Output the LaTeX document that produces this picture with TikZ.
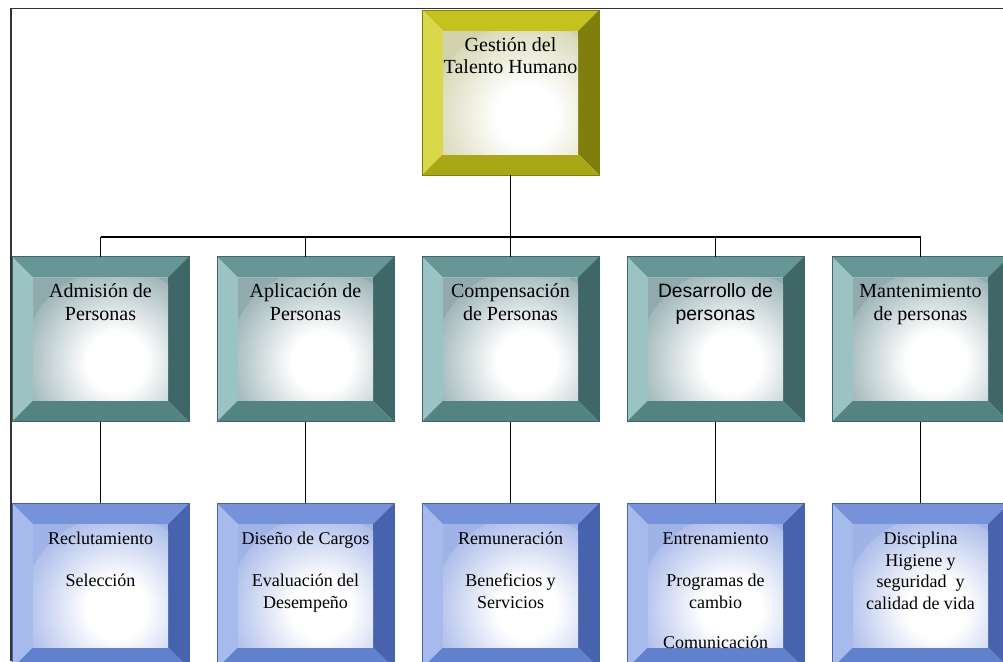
\documentclass[tikz,border=0pt]{standalone}
\usepackage{fontspec}
\setmainfont{Liberation Serif}
\newfontfamily\arialfont{Liberation Sans}
\usetikzlibrary{calc}

\definecolor{goldT}{HTML}{C3C21E}
\definecolor{goldL}{HTML}{D9D84B}
\definecolor{goldR}{HTML}{807E0C}
\definecolor{goldB}{HTML}{A9A715}
\definecolor{goldI}{HTML}{D2D2AC}
\definecolor{tealT}{HTML}{669696}
\definecolor{tealL}{HTML}{9CC3C3}
\definecolor{tealR}{HTML}{3F6767}
\definecolor{tealB}{HTML}{538383}
\definecolor{tealI}{HTML}{90AAAE}
\definecolor{blueT}{HTML}{7692DA}
\definecolor{blueL}{HTML}{A7BAEC}
\definecolor{blueR}{HTML}{4863AE}
\definecolor{blueB}{HTML}{6281CD}
\definecolor{blueI}{HTML}{A0B3E7}

\pgfdeclareradialshading{glowgold}{\pgfpoint{0bp}{0bp}}{color(0bp)=(white); color(8bp)=(white); color(28bp)=(goldI); color(50bp)=(goldI)}
\pgfdeclareradialshading{glowteal}{\pgfpoint{0bp}{0bp}}{color(0bp)=(white); color(8bp)=(white); color(28bp)=(tealI); color(50bp)=(tealI)}
\pgfdeclareradialshading{glowblue}{\pgfpoint{0bp}{0bp}}{color(0bp)=(white); color(8bp)=(white); color(28bp)=(blueI); color(50bp)=(blueI)}

\newlength{\bxw}\setlength{\bxw}{132.75pt}
\newlength{\bxh}\setlength{\bxh}{123.75pt}
\newcommand{\bigfont}{\fontsize{15}{17}\selectfont}
\newcommand{\smallfont}{\fontsize{13.5}{16.3}\selectfont}
\newcommand{\boxlines}[2][\bigfont]{\parbox[c][\bxh][t]{\bxw}{\centering#1\rule{0pt}{30.75pt}#2\par}}

\tikzset{
  bevelbox/.style 2 args={rectangle, inner sep=0pt, outer sep=0pt,
    draw=#1R, line width=0.4pt,
    path picture={
      \coordinate (bsw) at (path picture bounding box.south west);
      \coordinate (bne) at (path picture bounding box.north east);
      \coordinate (bnw) at (bsw |- bne);
      \coordinate (bse) at (bne |- bsw);
      \coordinate (isw) at ($(bsw)+(15.75pt,15.75pt)$);
      \coordinate (ine) at ($(bne)+(-15.75pt,-15.75pt)$);
      \coordinate (inw) at (isw |- ine);
      \coordinate (ise) at (ine |- isw);
      \fill[#1T] (bnw) -- (bne) -- (ine) -- (inw) -- cycle;
      \fill[#1L] (bnw) -- (inw) -- (isw) -- (bsw) -- cycle;
      \fill[#1R] (bne) -- (bse) -- (ise) -- (ine) -- cycle;
      \fill[#1B] (bsw) -- (isw) -- (ise) -- (bse) -- cycle;
      \begin{scope}
        \clip (isw) rectangle (ine);
        \fill[#1I] (isw) rectangle (ine);
        \shade[shading=#2] ($(isw)!0.5!(ine)+(12pt,-17pt)$) circle (70pt);
      \end{scope}
    }},
  goldbox/.style={bevelbox={gold}{glowgold}},
  tealbox/.style={bevelbox={teal}{glowteal}},
  bluebox/.style={bevelbox={blue}{glowblue}},
  conn/.style={draw=black, line width=1.4pt},
  frame/.style={draw=black!80, line width=1.1pt}
}

\begin{document}
\begin{tikzpicture}
  [x=0.75pt, y=-0.75pt, node distance=185pt]
  \useasboundingbox (0,0) rectangle (1003,661);
  \clip (0,0) rectangle (1003,661);
  \fill[white] (0,0) rectangle (1003,661);
  \draw[frame] (11,661) -- (11,8.5) -- (1003,8.5);

  \node [name=gth, goldbox] at (510.5,92.5) {\boxlines{Gestión del\\Talento Humano}};
  \node [name=com, tealbox, below of=gth] {\boxlines{Compensación\\de Personas}};
  \node [name=apl, tealbox, left of=com, node distance=153.75pt] {\boxlines{Aplicación de\\Personas}};
  \node [name=adm, tealbox, left of=apl, node distance=153.75pt] {\boxlines{Admisión de\\Personas}};
  \node [name=des, tealbox, right of=com, node distance=153.75pt] {\boxlines[\arialfont\fontsize{14.5}{17}\selectfont]{Desarrollo de\\personas}};
  \node [name=man, tealbox, right of=des, node distance=153.75pt] {\boxlines{Mantenimiento\\de personas}};

  \node [name=adm2, bluebox, below of=adm] {\boxlines[\smallfont]{Reclutamiento\\[15.5pt]Selección}};
  \node [name=apl2, bluebox, below of=apl] {\boxlines[\smallfont]{Diseño de Cargos\\[15.5pt]Evaluación del\\Desempeño}};
  \node [name=com2, bluebox, below of=com] {\boxlines[\smallfont]{Remuneración\\[15.5pt]Beneficios y\\Servicios}};
  \node [name=des2, bluebox, below of=des] {\boxlines[\smallfont]{Entrenamiento\\[15.5pt]Programas de\\cambio\\[13.5pt]Comunicación}};
  \node [name=man2, bluebox, below of=man] {\boxlines[\smallfont]{Disciplina\\Higiene y\\seguridad\ \ y\\calidad de vida}};

  \coordinate (bus) at (0,237);
  \draw[conn] (gth.south) -- (gth.south |- bus);
  \draw[conn] (adm.north |- bus) -- (man.north |- bus);
  \foreach \n in {adm,apl,com,des,man} {
    \draw[conn] (\n.north |- bus) -- (\n.north);
    \draw[conn] (\n.south) -- (\n2.north);
  }
\end{tikzpicture}
\end{document}
